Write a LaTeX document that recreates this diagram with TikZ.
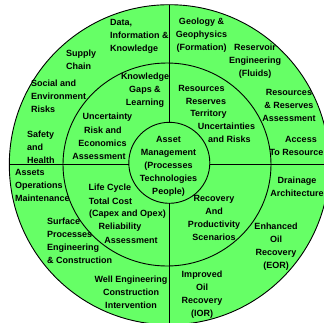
\documentclass[tikz,border=0pt]{standalone}
\usepackage{fontspec}
\setmainfont{Liberation Sans}
\usetikzlibrary{shapes.geometric}
\definecolor{ringgreen}{RGB}{102,255,102}
\begin{document}
\begin{tikzpicture}[x=1pt,y=-1pt,
  txt/.style={font=\fontsize{9}{13}\selectfont\bfseries, inner sep=0pt, align=center, text=black},
  ltxt/.style={txt, align=left, anchor=west},
  ring/.style={draw=black, line width=0.9pt, fill=ringgreen, inner sep=0pt, outer sep=0pt},
  divider/.style={draw=black, line width=0.9pt}]
\useasboundingbox (0,0) rectangle (324,322);
\clip (0,0) rectangle (324,322);
% rings
\node[ring, circle, minimum size=320pt] (outer) at (169.3,164.7) {};
\node[ring, ellipse, minimum width=208pt, minimum height=203pt] (middle) at (167,164.5) {};
\node[ring, circle, minimum size=81pt] (inner) at (169.3,162.8) {};
% dividers
\draw[divider] (outer.north) -- (inner.north);
\draw[divider] (inner.south) -- (outer.south);
\draw[divider] (outer.west) -- (inner.west |- outer.west);
\draw[divider] (inner.east |- outer.east) -- (outer.east);
% outer ring texts
\node[ltxt] (data) at (110,36) {Data,\\Information \&\\Knowledge};
\node[ltxt] (supply) at (66,59.5) {Supply\\Chain};
\node[ltxt] (social) at (31,96) {Social and\\Environment\\Risks};
\node[ltxt] (safety) at (27,147.7) {Safety\\and\\Health};
\node[ltxt] (assets) at (15,185) {Assets\\Operations\\Maintenance};
\node[ltxt] (surface) at (47,241) {Surface\\Processes\\Engineering\\\& Construction};
\node[txt] (geo) at (201.5,35.5) {Geology \&\\Geophysics\\(Formation)};
\node[txt] (reservoir) at (255,61.3) {Reservoir\\Engineering\\(Fluids)};
\node[txt] (resass) at (289,105.3) {Resources\\\& Reserves\\Assessment};
\node[txt] (access1) at (301,139.5) {Access};
\node[txt, anchor=east] (access2) at (323.6,152.5) {To Resource};
\node[txt] (drain) at (297,186.5) {Drainage\\Architecture};
\node[txt] (eor) at (276,247) {Enhanced\\Oil\\Recovery\\(EOR)};
\node[txt] (ior) at (202,294.5) {Improved\\Oil\\Recovery\\(IOR)};
\node[txt] (well) at (131,292.3) {Well Engineering\\Construction\\Intervention};
% middle ring texts
\node[txt] (know) at (145,90.3) {Knowledge\\Gaps \&\\Learning};
\foreach \t/\x/\y [count=\i] in {Uncertainty/107.5/117, Risk and/103/130.5, Economics/102.5/143, Assessment/99/156}
  \node[txt] (unc\i) at (\x,\y) {\t};
\foreach \t/\x/\y [count=\i] in {Resources/201.5/88, Reserves/206/101, Territory/208.5/114, Uncertainties/226.5/126.5, and Risks/229.5/139}
  \node[txt] (res\i) at (\x,\y) {\t};
\foreach \t/\x/\y [count=\i] in {Life Cycle/110/188, Total Cost/110.5/201, (Capex and Opex)/127.5/214, Reliability/120/227, Assessment/131/240}
  \node[txt] (life\i) at (\x,\y) {\t};
\node[txt] (recov) at (214,218.3) {Recovery\\And\\Productivity\\Scenarios};
% centre
\node[txt] (asset) at (168.5,166.4) {Asset\\Management\\(Processes\\Technologies\\People)};
\end{tikzpicture}
\end{document}
